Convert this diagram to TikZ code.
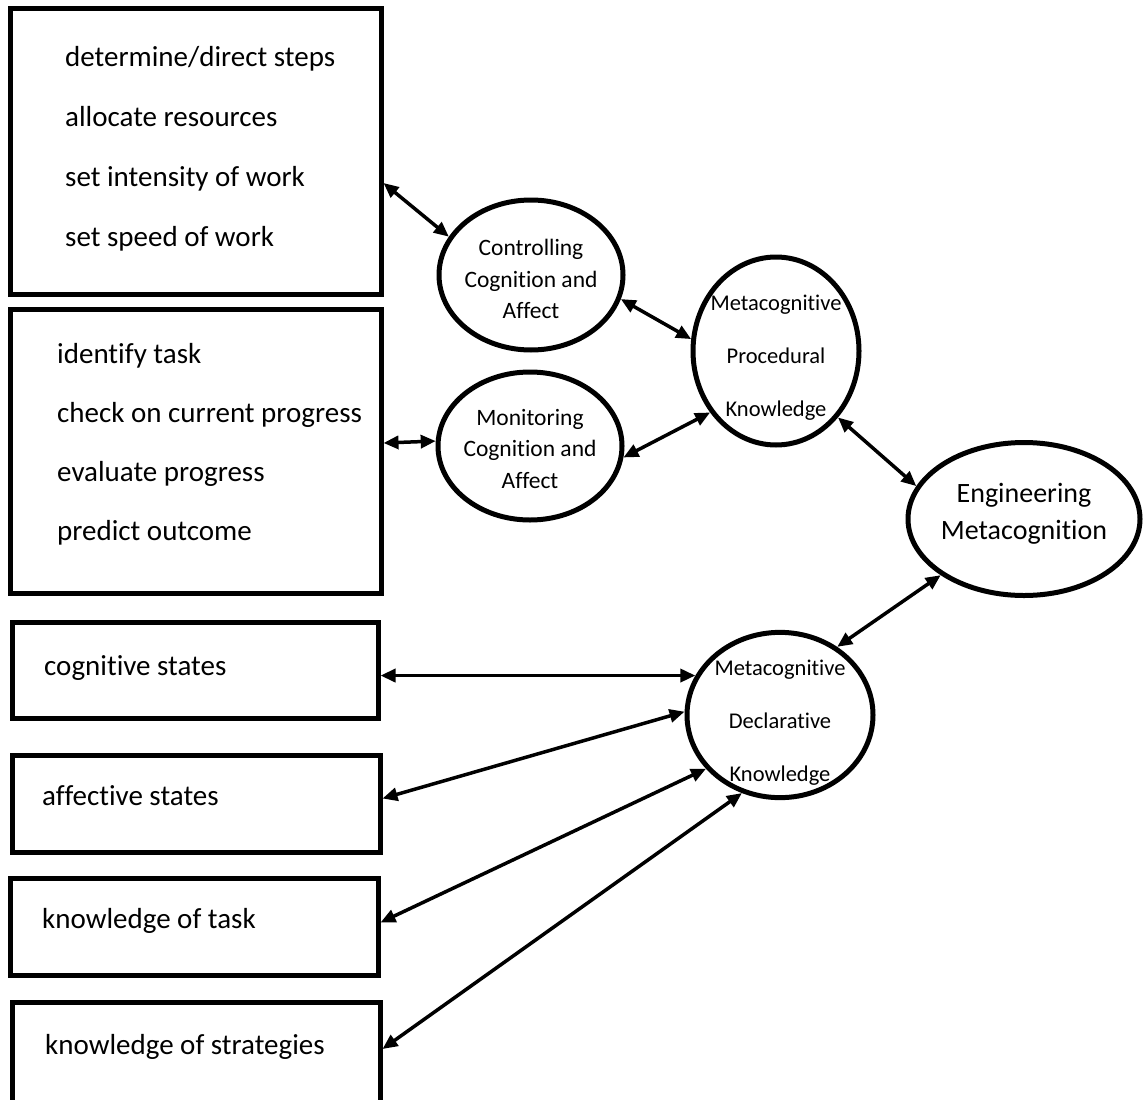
\documentclass[tikz,border=0pt]{standalone}
\usepackage{fontspec}
\setmainfont{Carlito}[Ligatures=NoCommon]
\usetikzlibrary{arrows.meta,shapes.geometric}
\tikzset{
  box/.style={draw,line width=5pt,inner sep=0pt},
  txt/.style={anchor=west,align=left,inner sep=0pt,font=\fontsize{29}{60}\selectfont},
  oval/.style={draw,ellipse,line width=5pt,align=center,inner sep=-12pt},
  ar/.style={{Triangle[length=15pt,width=13pt]}-{Triangle[length=15pt,width=13pt]},line width=3.5pt}
}
\begin{document}
\begin{tikzpicture}[x=1pt,y=-1pt]
\useasboundingbox (0,0) rectangle (1143,1100);
% left boxes
\node[box,minimum width=371pt,minimum height=286pt] (ctrlbox) at (195.5,151) {};
\node[box,minimum width=371pt,minimum height=284pt] (monbox) at (195.5,451) {};
\node[box,minimum width=366pt,minimum height=96pt] (cogbox) at (195,670) {};
\node[box,minimum width=368pt,minimum height=97pt] (affbox) at (196,803.5) {};
\node[box,minimum width=368pt,minimum height=97pt] (taskbox) at (194,926.5) {};
\node[box,minimum width=368pt,minimum height=104pt] (stratbox) at (196,1054) {};
\node[txt] (ctrltxt) at (65,148.5) {determine/direct steps\\allocate resources\\set intensity of work\\set speed of work};
\node[txt,font=\fontsize{29}{59}\selectfont] (montxt) at (57,444.5) {identify task\\check on current progress\\evaluate progress\\predict outcome};
\node[txt] (cogtxt) at (44,668) {cognitive states};
\node[txt] (afftxt) at (42,796) {affective states};
\node[txt] (tasktxt) at (42,921) {knowledge of task};
\node[txt] (strattxt) at (45,1047) {knowledge of strategies};
% ellipses
\node[oval,minimum width=184pt,minimum height=150pt,text height=88pt,font=\fontsize{23.5}{31.5}\selectfont] (ctrl) at (531,275) {Controlling\\Cognition and\\Affect};
\node[oval,minimum width=184pt,minimum height=148pt,text height=85pt,font=\fontsize{23.5}{31.5}\selectfont] (mon) at (530,446) {Monitoring\\Cognition and\\Affect};
\node[oval,minimum width=166pt,minimum height=188pt,text height=135pt,font=\fontsize{22.5}{53}\selectfont] (mpk) at (776,351) {Metacognitive\\Procedural\\Knowledge};
\node[oval,minimum width=232pt,minimum height=153pt,text depth=16pt,font=\fontsize{28}{37}\selectfont] (em) at (1024,519) {Engineering\\Metacognition};
\node[oval,minimum width=186pt,minimum height=165pt,text height=137pt,font=\fontsize{22.5}{53}\selectfont] (mdk) at (780,715) {Metacognitive\\Declarative\\Knowledge};
% connectors
\draw[ar] ([yshift=-32pt]ctrlbox.east) -- (ctrl.155);
\draw[ar] (ctrl.345) -- (mpk.172);
\draw[ar] ([yshift=8pt]monbox.east) -- (mon.177);
\draw[ar] (mon.353) -- (mpk.223);
\draw[ar] (mpk.313) -- (em.163);
\draw[ar] (em.214) -- (mdk.50);
\draw[ar] (cogbox.east |- mdk.155) -- (mdk.155);
\draw[ar] ([yshift=5pt]affbox.east) -- (mdk.178);
\draw[ar] ([yshift=4pt]taskbox.east) -- (mdk.216);
\draw[ar] ([yshift=5pt]stratbox.east) -- (mdk.244);
\end{tikzpicture}
\end{document}
